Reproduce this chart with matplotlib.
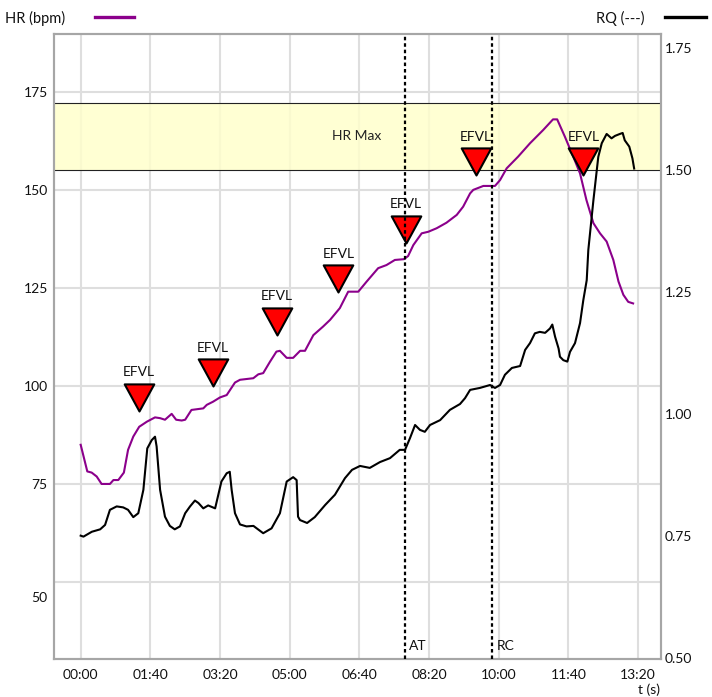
import matplotlib
matplotlib.use("Agg")
import matplotlib.pyplot as plt
from matplotlib.path import Path
from matplotlib.lines import Line2D
from matplotlib.transforms import ScaledTranslation

plt.rcParams['font.family'] = ['Lato', 'DejaVu Sans']

# Heart rate (bpm) over time (s)
hr_t = [0, 9.5, 15.8, 23, 30, 42, 47, 54, 62, 68, 75.5, 84, 95, 106.7, 114, 121,
        130.6, 137, 145, 150, 159, 176, 181, 190, 200, 209.6, 221.5, 228.7, 247.8,
        255, 262, 271.7, 281, 286, 295.7, 305, 315, 322, 334, 348, 358, 372, 384,
        398.5, 410.6, 427, 439, 451, 464, 470, 477.5, 489.5, 499, 511, 525, 539.8,
        549, 559, 563.6, 578, 594.7, 602, 611.5, 628, 645, 664, 678, 684, 695, 707,
        716.8, 726, 736, 745.5, 755, 764.6, 772, 779, 786, 793]
hr_bpm = [85.0, 78.2, 77.9, 76.9, 75.0, 75.0, 76.0, 76.0, 77.9, 83.7, 87.1, 89.6,
          90.9, 92.0, 91.8, 91.4, 92.9, 91.4, 91.2, 91.4, 93.9, 94.3, 95.2, 96.0,
          97.1, 97.7, 100.9, 101.6, 102.0, 103.0, 103.3, 106.2, 108.8, 109.0, 107.2,
          107.2, 109.0, 109.0, 113.0, 115.2, 116.9, 119.9, 124.1, 124.1, 126.7,
          130.1, 130.9, 132.2, 132.4, 133.2, 136.0, 139.0, 139.4, 140.3, 141.7,
          143.7, 145.8, 149.2, 150.1, 151.1, 151.1, 152.6, 155.6, 158.6, 162.0,
          165.4, 168.1, 168.1, 163.7, 158.6, 154.3, 147.5, 141.6, 139.0, 136.9,
          132.2, 126.7, 123.3, 121.5, 121.1]

# Respiratory quotient over time (s)
rq_t = [0, 4, 16, 28, 35, 42, 51.7, 61, 68, 75.5, 82.7, 90, 95.6, 102, 106.7, 109,
        114, 121, 128, 135, 142.5, 150, 157, 164, 169, 176, 183, 193, 202, 209.6,
        214, 216.7, 221.5, 228.7, 238, 248, 262, 274, 286, 295.7, 305, 310, 312,
        314.8, 325, 336, 351, 365, 379.4, 389.5, 401, 415, 429.7, 444, 458, 465.6,
        472.7, 480, 487, 494, 501.5, 516, 530, 544.5, 551.7, 559, 573, 587.6, 594.7,
        602, 609, 619, 630.8, 638, 645, 652, 659, 666.7, 673.7, 677, 681, 686, 688,
        692.8, 698.6, 702.4, 709.6, 716.8, 721.5, 726.4, 728.7, 736, 743, 748, 755,
        762, 767, 774, 778, 781, 787.5, 792, 794.5]
rq_val = [0.750, 0.748, 0.758, 0.763, 0.772, 0.803, 0.810, 0.808, 0.803, 0.788,
          0.796, 0.844, 0.929, 0.946, 0.953, 0.933, 0.844, 0.789, 0.770, 0.763,
          0.769, 0.796, 0.810, 0.822, 0.817, 0.806, 0.812, 0.806, 0.861, 0.878,
          0.881, 0.844, 0.796, 0.773, 0.769, 0.770, 0.755, 0.765, 0.796, 0.861,
          0.870, 0.864, 0.789, 0.782, 0.776, 0.788, 0.813, 0.834, 0.868, 0.885,
          0.893, 0.889, 0.901, 0.909, 0.926, 0.926, 0.950, 0.977, 0.967, 0.963,
          0.977, 0.987, 1.008, 1.020, 1.032, 1.049, 1.053, 1.059, 1.053, 1.059,
          1.080, 1.094, 1.098, 1.131, 1.145, 1.165, 1.168, 1.166, 1.175, 1.183,
          1.158, 1.134, 1.117, 1.110, 1.107, 1.127, 1.145, 1.186, 1.233, 1.274,
          1.336, 1.438, 1.527, 1.555, 1.574, 1.565, 1.570, 1.574, 1.576, 1.561,
          1.548, 1.524, 1.503]

# EFVL event markers (time, heart rate)
efvl_t = [84, 189.5, 282, 370, 467, 567.5, 721.5]
efvl_hr = [93.7, 99.9, 113.1, 123.9, 136.6, 153.9, 153.9]

hr_max_band = (155.2, 172.4)
at_t = 466
rc_t = 591

x_ticks = [0, 100, 200, 300, 400, 500, 600, 700, 800]
x_labels = ['00:00', '01:40', '03:20', '05:00', '06:40', '08:20', '10:00', '11:40', '13:20']
hr_ticks = [50, 75, 100, 125, 150, 175]
rq_ticks = [0.50, 0.75, 1.00, 1.25, 1.50, 1.75]

PURPLE = '#8b008b'
SPINE = '#a6a6a6'
GRID = '#dedede'

W, H = 712, 697
fig = plt.figure(figsize=(W / 100, H / 100), dpi=100)
L, R, T, B = 54, 660.7, 34, 659
ax = fig.add_axes([L / W, 1 - B / H, (R - L) / W, (B - T) / H])
ax2 = ax.twinx()

ax.set_xlim(-38.3, 832.6)
ax.set_ylim(30.3, 189.9)
ax2.set_ylim(0.497, 1.779)

# grid and HR max band
ax.set_axisbelow(True)
ax.grid(True, color=GRID, lw=1.5)
ax.axhspan(*hr_max_band, facecolor='#ffffcc', edgecolor='none', alpha=0.85, zorder=1.6)
for yb in hr_max_band:
    ax.axhline(yb, color='#222222', lw=0.8, zorder=1.7)
ax.text(396.6, sum(hr_max_band) / 2, 'HR Max', ha='center', va='center', fontsize=10, color='#222222')

# heart rate line
ax.plot(hr_t, hr_bpm, color=PURPLE, lw=1.5, zorder=3)

# EFVL markers: downward triangle with its tip on the event point
tri = Path([(-15.5, 28.4), (15.5, 28.4), (0, 0), (-15.5, 28.4)],
           [Path.MOVETO, Path.LINETO, Path.LINETO, Path.CLOSEPOLY])
ax.plot(efvl_t, efvl_hr, linestyle='none', marker=tri, markersize=39,
        markerfacecolor='#ff0000', markeredgecolor='black', markeredgewidth=1.5, zorder=4)
for t, v in zip(efvl_t, efvl_hr):
    ax.annotate('EFVL', (t, v), xytext=(0, 27.6), textcoords='offset points',
                ha='center', va='center', fontsize=10, color='#111111', zorder=5)

# RQ line
ax2.plot(rq_t, rq_val, color='black', lw=1.5, zorder=3)

# AT / RC thresholds
for xt, lab in [(at_t, 'AT'), (rc_t, 'RC')]:
    ax2.axvline(xt, color='black', lw=1.6, dashes=(1.6, 1.3), zorder=6)
    ax2.text(xt, 0.012, lab, transform=ax2.get_xaxis_transform() +
             ScaledTranslation(4 / 100, 0, fig.dpi_scale_trans),
             ha='left', va='bottom', fontsize=10, color='#111111')

# axes, ticks
ax.set_xticks(x_ticks)
ax.set_xticklabels(x_labels)
ax.set_yticks(hr_ticks)
ax.set_yticklabels([str(v) for v in hr_ticks])
ax2.set_yticks(rq_ticks)
ax2.set_yticklabels([f'{v:.2f}' for v in rq_ticks])
ax.tick_params(axis='both', length=0, labelsize=10, colors='#111111')
ax.tick_params(axis='x', pad=7)
ax.tick_params(axis='y', pad=4.5)
ax2.tick_params(axis='y', length=0, labelsize=10, colors='#111111', pad=3)
for a in (ax, ax2):
    for s in a.spines.values():
        s.set_color(SPINE)
        s.set_linewidth(1.5)

# the lowest HR label sits a little lower
lab50 = ax.get_yticklabels()[0]
lab50.set_transform(lab50.get_transform() + ScaledTranslation(0, -15 / 100, fig.dpi_scale_trans))

# legend header
fig.text(5 / W, 1 - 18 / H, 'HR (bpm)', ha='left', va='center', fontsize=10.5, color='#111111')
fig.add_artist(Line2D([95 / W, 134 / W], [1 - 17 / H, 1 - 17 / H], color=PURPLE, lw=2.4,
                      transform=fig.transFigure))
fig.text(645 / W, 1 - 18 / H, 'RQ (---)', ha='right', va='center', fontsize=10.5, color='#111111')
fig.add_artist(Line2D([665 / W, 706 / W], [1 - 17 / H, 1 - 17 / H], color='black', lw=2.4,
                      transform=fig.transFigure))

fig.text(649 / W, 1 - 690 / H, 't (s)', ha='center', va='center', fontsize=10, color='#111111')

fig.savefig('out.png', dpi=100)
